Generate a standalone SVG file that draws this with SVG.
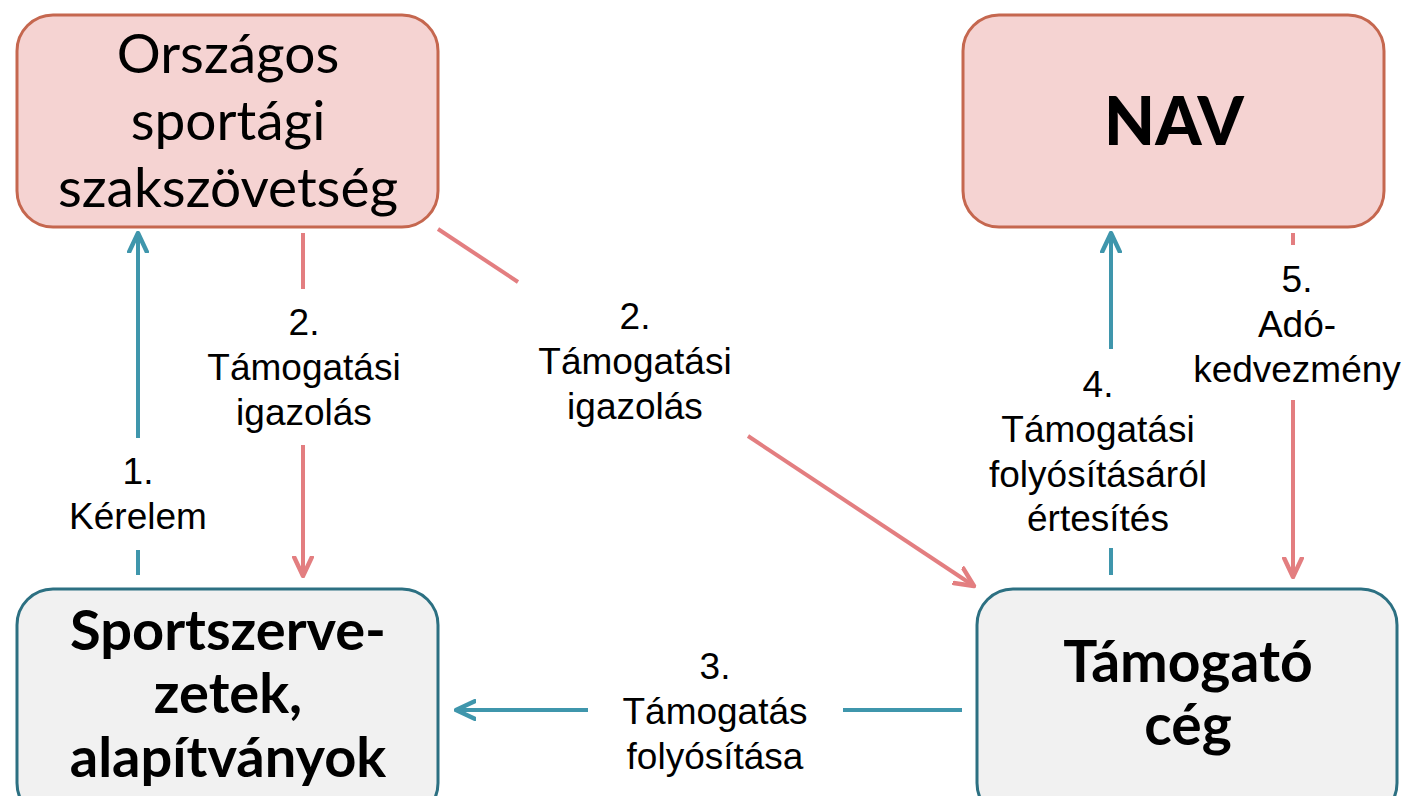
<svg xmlns="http://www.w3.org/2000/svg" width="1405" height="796" viewBox="0 0 1405 796">
<style>
.top{fill:#F5D3D2;stroke:#C5674F;stroke-width:3}
.bot{fill:#F1F1F1;stroke:#2C7082;stroke-width:3}
.bt{font-family:Lato,"Open Sans",sans-serif;fill:#000;text-anchor:middle}
.lbl{font-family:"Liberation Sans",Arial,sans-serif;font-size:37px;fill:#000;text-anchor:middle}
.teal{stroke:#3F96AC;stroke-width:4;fill:none}
.pink{stroke:#E37E80;stroke-width:4;fill:none}
</style>
<defs>
<marker id="ht" viewBox="0 0 20 20" refX="18" refY="10" markerWidth="22" markerHeight="22" markerUnits="userSpaceOnUse" orient="auto">
<path d="M1,2 L18,10 L1,18" fill="none" stroke="#3F96AC" stroke-width="4" stroke-linecap="round" stroke-linejoin="round"/>
</marker>
<marker id="hp" viewBox="0 0 20 20" refX="18" refY="10" markerWidth="22" markerHeight="22" markerUnits="userSpaceOnUse" orient="auto">
<path d="M1,2 L18,10 L1,18" fill="none" stroke="#E37E80" stroke-width="4" stroke-linecap="round" stroke-linejoin="round"/>
</marker>
</defs>
<rect width="1405" height="796" fill="#fff"/>
<g id="connectors">
<line class="teal" x1="138" y1="438" x2="138" y2="233" marker-end="url(#ht)"/>
<line class="teal" x1="138" y1="550" x2="138" y2="575"/>
<line class="pink" x1="303" y1="233" x2="303" y2="289"/>
<line class="pink" x1="303" y1="445" x2="303" y2="576" marker-end="url(#hp)"/>
<line class="pink" x1="438" y1="229" x2="518" y2="282"/>
<line class="pink" x1="748" y1="436" x2="974" y2="586" marker-end="url(#hp)"/>
<line class="teal" x1="1111" y1="349" x2="1111" y2="233" marker-end="url(#ht)"/>
<line class="teal" x1="1111" y1="548" x2="1111" y2="575"/>
<line class="pink" x1="1293" y1="233" x2="1293" y2="245"/>
<line class="pink" x1="1293" y1="400" x2="1293" y2="577" marker-end="url(#hp)"/>
<line class="teal" x1="588" y1="710" x2="456" y2="710" marker-end="url(#ht)"/>
<line class="teal" x1="843" y1="710" x2="962" y2="710"/>
<text class="lbl"><tspan x="138" y="484">1.</tspan><tspan x="138" y="529">Kérelem</tspan></text>
<text class="lbl"><tspan x="304" y="335">2.</tspan><tspan x="304" y="380">Támogatási</tspan><tspan x="304" y="425">igazolás</tspan></text>
<text class="lbl"><tspan x="635" y="329">2.</tspan><tspan x="635" y="374">Támogatási</tspan><tspan x="635" y="419">igazolás</tspan></text>
<text class="lbl"><tspan x="1098" y="397">4.</tspan><tspan x="1098" y="442">Támogatási</tspan><tspan x="1098" y="487">folyósításáról</tspan><tspan x="1098" y="531">értesítés</tspan></text>
<text class="lbl"><tspan x="1297" y="292">5.</tspan><tspan x="1297" y="337">Adó-</tspan><tspan x="1297" y="382">kedvezmény</tspan></text>
<text class="lbl"><tspan x="715" y="679">3.</tspan><tspan x="715" y="724">Támogatás</tspan><tspan x="715" y="769">folyósítása</tspan></text>
</g>
<g id="orszagos">
<rect class="top" x="17" y="15" width="421" height="212" rx="36"/>
<text class="bt" font-size="55"><tspan x="228" y="73">Országos</tspan><tspan x="228" y="140">sportági</tspan><tspan x="228" y="207">szakszövetség</tspan></text>
</g>
<g id="nav">
<rect class="top" x="963" y="15" width="421" height="212" rx="36"/>
<text class="bt" font-size="66" font-weight="900" x="1174" y="145">NAV</text>
</g>
<g id="sportszervezetek">
<rect class="bot" x="17" y="589" width="421" height="230" rx="36"/>
<text class="bt" font-size="56" font-weight="bold"><tspan x="228" y="650">Sportszerve-</tspan><tspan x="228" y="713">zetek,</tspan><tspan x="228" y="777">alapítványok</tspan></text>
</g>
<g id="tamogato">
<rect class="bot" x="977" y="589" width="420" height="230" rx="36"/>
<text class="bt" font-size="57" font-weight="bold"><tspan x="1188" y="682">Támogató</tspan><tspan x="1188" y="745">cég</tspan></text>
</g>
</svg>
